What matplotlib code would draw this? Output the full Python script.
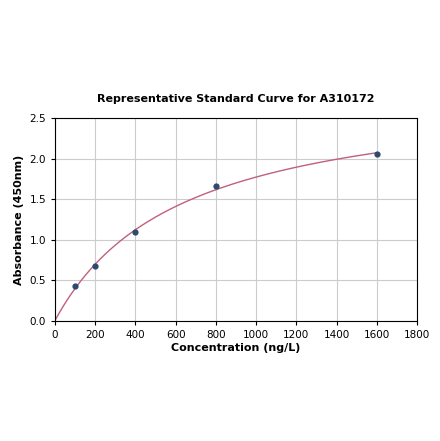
import numpy as np
import matplotlib
matplotlib.use("Agg")
import matplotlib.pyplot as plt

# standard points
conc = [100, 200, 400, 800, 1600]
absorb = [0.435, 0.68, 1.095, 1.66, 2.06]

x_ticks = [0, 200, 400, 600, 800, 1000, 1200, 1400, 1600, 1800]
y_ticks = [0.0, 0.5, 1.0, 1.5, 2.0, 2.5]


def fit_4pl(x, y):
    # grid over slope and midpoint, linear solve for the two asymptotes
    x = np.asarray(x, dtype=float)
    y = np.asarray(y, dtype=float)
    best = None
    for b in np.linspace(0.5, 2.0, 151):
        for c in np.linspace(100, 5000, 491):
            g = 1.0 / (1.0 + (x / c) ** b)
            A = np.column_stack([g, 1 - g])
            coef, *_ = np.linalg.lstsq(A, y, rcond=None)
            err = np.sum((A @ coef - y) ** 2)
            if best is None or err < best[0]:
                best = (err, coef[0], b, c, coef[1])
    _, a, b, c, d = best
    return lambda t: d + (a - d) / (1.0 + (np.asarray(t) / c) ** b)


curve = fit_4pl([0] + conc, [0.0] + absorb)
xs = np.linspace(0, 1600, 400)

fig = plt.figure(figsize=(4.4, 4.41), dpi=100)
ax = fig.add_axes([0.125, 0.272, 0.823, 0.46])
ax.plot(xs, curve(xs), color='#c0607e', linewidth=1.0, zorder=2)
ax.scatter(conc, absorb, s=12, color='#2b4a6e', zorder=3)

ax.set_xlim(0, 1800)
ax.set_ylim(0, 2.5)
ax.set_xticks(x_ticks)
ax.set_yticks(y_ticks)
ax.set_yticklabels([f'{v:.1f}' for v in y_ticks])
ax.tick_params(labelsize=7.5, length=3)
ax.grid(True, color='#cccccc', linewidth=0.8)
ax.set_axisbelow(True)
ax.set_xlabel('Concentration (ng/L)', fontsize=8, fontweight='bold', labelpad=2)
ax.set_ylabel('Absorbance (450nm)', fontsize=8, fontweight='bold')
ax.set_title('Representative Standard Curve for A310172', fontsize=8,
             fontweight='bold', pad=12)

plt.savefig('out.png', dpi=100)
plt.close()
